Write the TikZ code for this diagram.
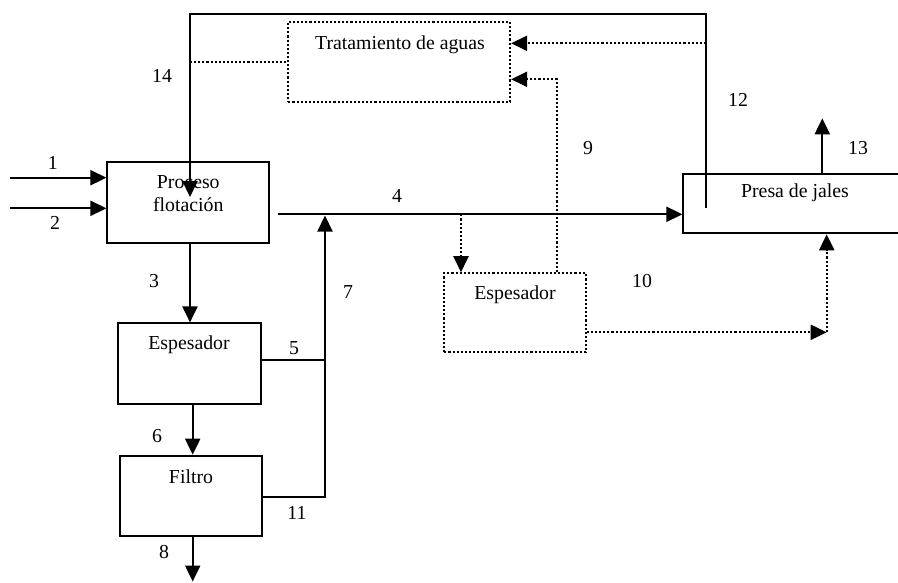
\documentclass[tikz,border=0pt]{standalone}
\usepackage{fontspec}
\setmainfont{Liberation Serif}
\usetikzlibrary{arrows.meta}
\begin{document}
\begin{tikzpicture}[x=1pt,y=-1pt,
  every node/.style={font=\fontsize{19.8}{23}\selectfont},
  flow/.style={line width=2.1pt},
  arr/.style={flow,-{Triangle[length=16pt,width=15pt]}},
  dots/.style={line width=2.2pt,dash pattern=on 2.1pt off 2pt},
  darr/.style={dots,-{Triangle[length=16pt,width=15pt]}},
  unit/.style={draw,line width=1.9pt,inner sep=0pt},
  dunit/.style={unit,line width=2.2pt,dash pattern=on 2.1pt off 2pt},
  lbl/.style={inner sep=0pt}]
\useasboundingbox (0,0) rectangle (898,582);

% process units
\node[unit,minimum width=161.7pt,minimum height=80.7pt] (flot) at (188.2,202.6) {};
\node[dunit,minimum width=221.7pt,minimum height=80pt] (trat) at (399.2,61.7) {};
\node[unit,minimum width=226.7pt,minimum height=59.3pt] (presa) at (796.7,203.7) {};
\node[dunit,minimum width=141.4pt,minimum height=79pt] (esp2) at (515,312.8) {};
\node[unit,minimum width=142.4pt,minimum height=80.7pt] (esp1) at (189.5,363.7) {};
\node[unit,minimum width=142.3pt,minimum height=80.3pt] (filt) at (191.2,495.8) {};

% unit names
\node[lbl,align=center] (flott) at (188.3,193.5) {Proceso\\flotación};
\node[lbl] (tratt) at (400,44.5) {Tratamiento de aguas};
\node[lbl] (presat) at (795,193) {Presa de jales};
\node[lbl] (esp2t) at (515,295) {Espesador};
\node[lbl] (esp1t) at (189,345) {Espesador};
\node[lbl] (filtt) at (191,477) {Filtro};

% stream numbers
\node[lbl] (n1) at (52.7,163) {1};
\node[lbl] (n2) at (55,223) {2};
\node[lbl] (n3) at (154,281) {3};
\node[lbl] (n4) at (397,196) {4};
\node[lbl] (n5) at (294,348) {5};
\node[lbl] (n6) at (157,436) {6};
\node[lbl] (n7) at (348,292) {7};
\node[lbl] (n8) at (164,552) {8};
\node[lbl] (n9) at (588,148) {9};
\node[lbl] (n10) at (642,281) {10};
\node[lbl] (n11) at (297,513) {11};
\node[lbl] (n12) at (738,100) {12};
\node[lbl] (n13) at (858,148) {13};
\node[lbl] (n14) at (162,76) {14};

% reference points of the piping
\coordinate (in1) at (10,177.7);
\coordinate (in2) at (10,208.3);
\coordinate (r12) at (706,208);
\coordinate (topR) at (706,14);
\coordinate (topL) at (190,14);
\coordinate (t14) at (190,197);
\coordinate (w12) at (706,43.3);
\coordinate (c9) at (556.7,79.3);
\coordinate (s4) at (277.7,214.3);
\coordinate (b4) at (461,214.3);
\coordinate (t13) at (822.3,118.3);
\coordinate (c10) at (826.7,332.3);
\coordinate (x3) at (190,0);
\coordinate (j7) at (325,360);
\coordinate (c11) at (325,496.7);
\coordinate (t7) at (325,215.5);
\coordinate (x6) at (192.7,0);
\coordinate (e8) at (192.7,581.5);

% feeds
\draw[arr] (in1) -- (in1 -| flot.west);
\draw[arr] (in2) -- (in2 -| flot.west);

% water recycle 12 -> 14
\draw[arr] (r12) -- (topR) -- (topL) -- (t14);
\draw[dots] (trat.west -| topL) -- (trat.west);
\draw[darr] (w12) -- (w12 -| trat.east);
\draw[darr] (c9 |- esp2.north) -- (c9) -- (c9 -| trat.east);

% tailings line 4
\draw[arr] (s4) -- (s4 -| presa.west);
\draw[darr] (b4) -- (b4 |- esp2.north);
\draw[arr] (t13 |- presa.north) -- (t13);
\draw[darr] (c10 -| esp2.east) -- (c10);
\draw[darr] (c10) -- (c10 |- presa.south);

% concentrate train
\draw[arr] (x3 |- flot.south) -- (x3 |- esp1.north);
\draw[flow] (j7 -| esp1.east) -- (j7);
\draw[arr] (c11 -| filt.east) -- (c11) -- (t7);
\draw[arr] (x6 |- esp1.south) -- (x6 |- filt.north);
\draw[arr] (e8 |- filt.south) -- (e8);
\end{tikzpicture}
\end{document}
